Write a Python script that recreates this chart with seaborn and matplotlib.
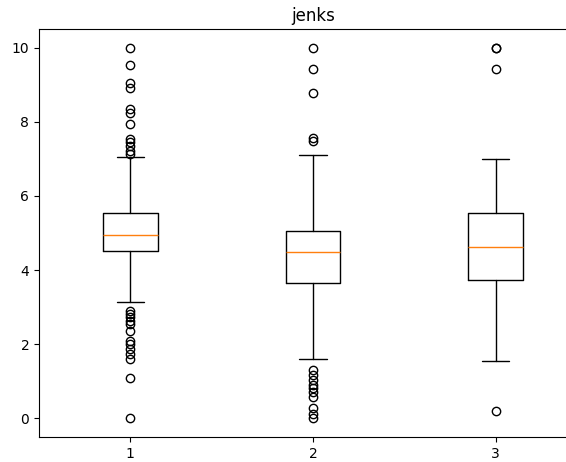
import matplotlib
matplotlib.use("Agg")
import matplotlib.pyplot as plt
import seaborn as sns

# ---- data ----
labels = ["1", "2", "3"]
q1 = [4.52, 3.66, 3.74]
med = [4.95, 4.49, 4.62]
q3 = [5.54, 5.05, 5.54]
whislo = [3.14, 1.59, 1.56]
whishi = [7.05, 7.10, 6.99]
fliers_1 = [10.0, 9.52, 9.05, 8.92, 8.33, 8.23, 7.93, 7.53, 7.45, 7.35, 7.21, 7.12,
            2.91, 2.82, 2.73, 2.64, 2.55, 2.37, 2.10, 2.02, 1.88, 1.75, 1.61, 1.08, 0.0]
fliers_2 = [10.0, 9.43, 8.78, 7.57, 7.48,
            1.30, 1.16, 1.03, 0.90, 0.81, 0.72, 0.58, 0.27, 0.13, 0.0]
fliers_3 = [10.0, 10.0, 9.41, 0.19]
fliers = [fliers_1, fliers_2, fliers_3]
title = "jenks"

sns.set_style("ticks", rc={
    "axes.edgecolor": "black",
    "xtick.color": "black",
    "ytick.color": "black",
    "text.color": "black",
    "axes.labelcolor": "black",
    "xtick.direction": "out",
    "ytick.direction": "out",
})
plt.rcParams["font.family"] = ["DejaVu Sans"]

fig = plt.figure(figsize=(5.66, 4.62), dpi=100)
ax = fig.add_axes([39 / 566, 25 / 462, 548 / 566, 408 / 462])

stats = []
for i, lab in enumerate(labels):
    stats.append(dict(label=lab, q1=q1[i], med=med[i], q3=q3[i],
                      whislo=whislo[i], whishi=whishi[i], fliers=fliers[i]))

ax.bxp(stats, positions=[1, 2, 3], widths=0.3,
       boxprops=dict(color="black", linewidth=1),
       whiskerprops=dict(color="black", linewidth=1),
       capprops=dict(color="black", linewidth=1),
       medianprops=dict(color="#ff7f0e", linewidth=1),
       flierprops=dict(marker="o", markerfacecolor="none",
                       markeredgecolor="black", markersize=6))
ax.set_xlim(0.5, 3.5)
ax.set_ylim(-0.5, 10.5)
ax.set_yticks([0, 2, 4, 6, 8, 10])
ax.tick_params(labelsize=10, length=3.5, width=0.8)
for s in ax.spines.values():
    s.set_linewidth(0.8)
    s.set_visible(True)
ax.set_title(title, fontsize=12)

fig.savefig("out.png", dpi=100)
